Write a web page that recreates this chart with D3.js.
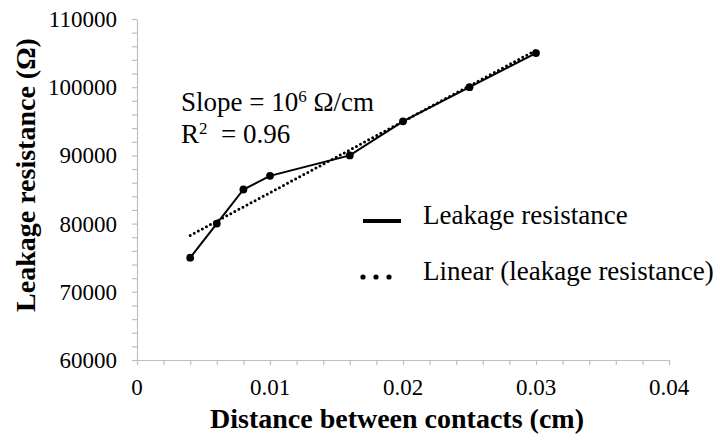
<!DOCTYPE html>
<html><head><meta charset="utf-8">
<script src="https://cdn.jsdelivr.net/npm/d3@7/dist/d3.min.js"></script>
<style>
body{margin:0;background:#fff}
text{font-family:"Liberation Serif","Times New Roman",serif;fill:#000}
</style>
</head><body>
<svg id="chart" width="720" height="436"></svg>
<script>
// ---- data ----
const distances   = [0.004, 0.006, 0.008, 0.010, 0.016, 0.020, 0.025, 0.030];
const resistances = [75000, 80000, 85000, 87000, 90000, 95000, 100000, 105000];
const xTickValues = [0, 0.01, 0.02, 0.03, 0.04];
const xTickLabels = ["0", "0.01", "0.02", "0.03", "0.04"];
const yTickValues = [60000, 70000, 80000, 90000, 100000, 110000];
const yTickLabels = ["60000", "70000", "80000", "90000", "100000", "110000"];
const seriesNames = ["Leakage resistance", "Linear (leakage resistance)"];
const xTitle = "Distance between contacts (cm)";
const yTitle = "Leakage resistance (Ω)";

const svg = d3.select("#chart");
const x = d3.scaleLinear().domain([0, 0.04]).range([137, 669]);
const y = d3.scaleLinear().domain([60000, 110000]).range([360, 19]);
const axisColor = "#bfbfbf";

// minor + major ticks
const xMinor = d3.range(0, 0.04 + 1e-9, 0.002);
const yMinor = d3.range(60000, 110000 + 1, 2000);

const gx = svg.append("g").attr("transform", `translate(0,${y(60000)})`)
  .call(d3.axisBottom(x).tickValues(xMinor).tickSize(5).tickSizeOuter(0).tickFormat(""));
const gy = svg.append("g").attr("transform", `translate(${x(0)},0)`)
  .call(d3.axisLeft(y).tickValues(yMinor).tickSize(5).tickSizeOuter(0).tickFormat(""));
[gx, gy].forEach(g => {
  g.select(".domain").attr("stroke", axisColor).attr("stroke-width", 1.2);
  g.selectAll(".tick line").attr("stroke", axisColor).attr("stroke-width", 1.2);
});

// tick labels
svg.append("g").selectAll("text").data(xTickValues).join("text")
  .attr("x", d => x(d)).attr("y", 395).attr("text-anchor", "middle")
  .style("font-size", "23px").text((d, i) => xTickLabels[i]);
svg.append("g").selectAll("text").data(yTickValues).join("text")
  .attr("x", 117).attr("y", d => y(d) + 8).attr("text-anchor", "end")
  .style("font-size", "23px").text((d, i) => yTickLabels[i]);

// axis titles
svg.append("text").attr("x", 397).attr("y", 428).attr("text-anchor", "middle")
  .style("font-size", "28px").style("font-weight", "bold").text(xTitle);
svg.append("text").attr("transform", "translate(35,175) rotate(-90)").attr("text-anchor", "middle")
  .style("font-size", "28px").style("font-weight", "bold").text(yTitle);

// linear trend (least squares of the data)
const n = distances.length;
const mx = d3.mean(distances), my = d3.mean(resistances);
let sxy = 0, sxx = 0;
for (let i = 0; i < n; i++) { sxy += (distances[i]-mx)*(resistances[i]-my); sxx += (distances[i]-mx)**2; }
const slope = sxy / sxx, icpt = my - slope * mx;
const xr = d3.extent(distances);
svg.append("path")
  .datum(xr.map(d => [d, icpt + slope * d]))
  .attr("d", d3.line().x(d => x(d[0])).y(d => y(d[1])))
  .attr("fill", "none").attr("stroke", "#000").attr("stroke-width", 3)
  .attr("stroke-linecap", "round").attr("stroke-dasharray", "0 4.6");

// data line + markers
const pts = distances.map((d, i) => [d, resistances[i]]);
svg.append("path").datum(pts)
  .attr("d", d3.line().x(d => x(d[0])).y(d => y(d[1])))
  .attr("fill", "none").attr("stroke", "#000").attr("stroke-width", 2);
svg.append("g").selectAll("circle").data(pts).join("circle")
  .attr("cx", d => x(d[0])).attr("cy", d => y(d[1])).attr("r", 3.9).attr("fill", "#000");

// annotation
const a1 = svg.append("text").attr("x", 181).attr("y", 111).style("font-size", "27px");
a1.append("tspan").text("Slope = 10");
a1.append("tspan").attr("dy", -9).style("font-size", "17px").text("6");
a1.append("tspan").attr("dy", 9).text(" Ω/cm");
const a2 = svg.append("text").attr("x", 181).attr("y", 143).style("font-size", "27px").style("white-space", "pre");
a2.append("tspan").text("R");
a2.append("tspan").attr("dy", -9).style("font-size", "17px").text("2");
a2.append("tspan").attr("dy", 9).text("  = 0.96");

// legend
svg.append("line").attr("x1", 363).attr("x2", 401).attr("y1", 221).attr("y2", 221)
  .attr("stroke", "#000").attr("stroke-width", 3.8);
svg.append("line").attr("x1", 363).attr("x2", 402).attr("y1", 277).attr("y2", 277)
  .attr("stroke", "#000").attr("stroke-width", 5.2).attr("stroke-linecap", "round")
  .attr("stroke-dasharray", "0 13");
svg.append("text").attr("x", 423).attr("y", 224).style("font-size", "27px").text(seriesNames[0]);
svg.append("text").attr("x", 423).attr("y", 280).style("font-size", "27px").text(seriesNames[1]);
</script>
</body></html>
